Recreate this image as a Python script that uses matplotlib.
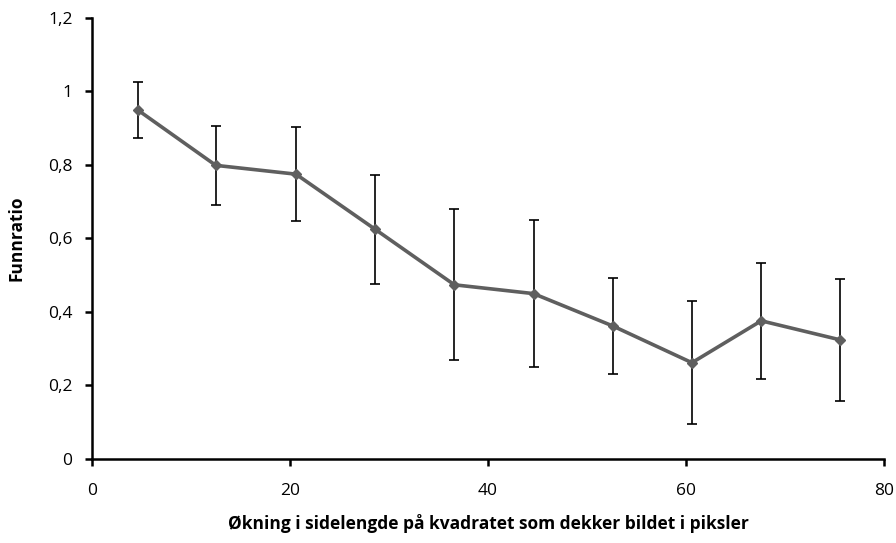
import matplotlib
matplotlib.use('Agg')
import matplotlib.pyplot as plt

# data
x = [4.6, 12.5, 20.6, 28.6, 36.6, 44.6, 52.6, 60.6, 67.6, 75.6]
y = [0.950, 0.799, 0.775, 0.625, 0.474, 0.450, 0.362, 0.262, 0.376, 0.324]
err = [0.077, 0.107, 0.127, 0.148, 0.205, 0.199, 0.131, 0.168, 0.158, 0.167]
yticks = [0, 0.2, 0.4, 0.6, 0.8, 1.0, 1.2]
ylabels = ['0', '0,2', '0,4', '0,6', '0,8', '1', '1,2']
xticks = [0, 20, 40, 60, 80]

plt.rcParams['font.family'] = ['Open Sans', 'DejaVu Sans']

fig = plt.figure(figsize=(8.96, 5.43), dpi=100)
ax = fig.add_axes([0.1027, 0.1547, 0.8839, 0.8122])

ax.errorbar(x, y, yerr=err, fmt='none', ecolor='black', elinewidth=1.2,
            capsize=3.5, capthick=1.2, zorder=2)
ax.plot(x, y, color='#5f5f5f', linewidth=2.6, marker='D', markersize=5.5,
        markerfacecolor='#5f5f5f', markeredgecolor='#5f5f5f', zorder=3)

ax.set_xlim(0, 80)
ax.set_ylim(0, 1.2)
ax.set_xticks(xticks)
ax.set_yticks(yticks)
ax.set_yticklabels(ylabels)

for s in ['top', 'right']:
    ax.spines[s].set_visible(False)
for s in ['left', 'bottom']:
    ax.spines[s].set_linewidth(1.8)
    ax.spines[s].set_color('black')
ax.tick_params(direction='out', length=5, width=1.8, labelsize=12.5, colors='black')
ax.tick_params(axis='y', pad=9)
ax.tick_params(axis='x', pad=12)

ax.set_ylabel('Funnratio', fontsize=12.5, fontweight='bold', labelpad=16)
ax.set_xlabel('Økning i sidelengde på kvadratet som dekker bildet i piksler',
              fontsize=12.5, fontweight='bold', labelpad=11)

fig.savefig('out.png', dpi=100)
